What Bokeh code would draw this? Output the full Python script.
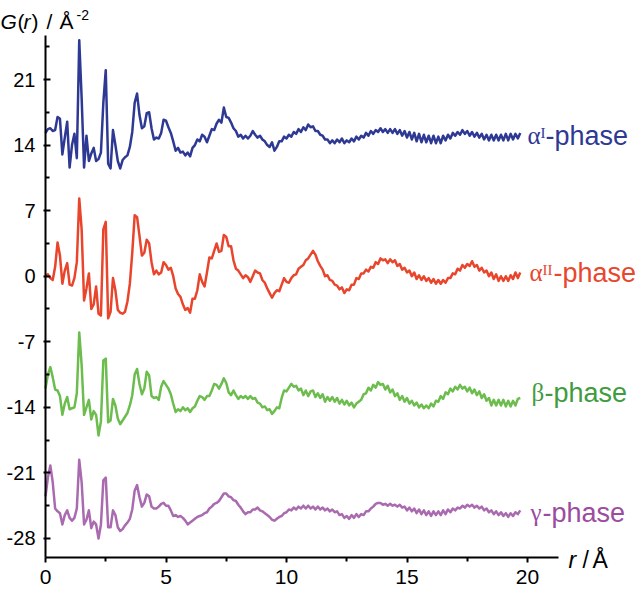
from bokeh.plotting import figure
from bokeh.models import Range1d, FixedTicker, Label, LinearAxis
from bokeh.embed import file_html
from bokeh.resources import INLINE

# r grid (Å), 0.0 .. 19.7 in steps of 0.1
R = [round(0.1 * i, 1) for i in range(198)]

# G(r) values (vertical offsets included)
G_ALPHA_I = [
    15.3, 15.7, 15.8, 15.5, 15.6, 17.0, 16.8, 13.0, 14.8, 16.5,
    11.6, 14.0, 15.2, 12.6, 25.2, 19.0, 11.6, 15.0, 12.3, 13.1,
    13.7, 12.3, 12.5, 13.2, 18.5, 22.0, 12.0, 11.5, 15.6, 14.0,
    12.3, 11.5, 12.4, 12.7, 12.9, 13.8, 15.4, 18.5, 19.5, 17.2,
    15.8, 16.0, 17.4, 17.5, 15.8, 14.6, 14.8, 14.7, 15.3, 16.7,
    16.6, 15.9, 15.3, 14.4, 13.4, 13.7, 13.2, 13.3, 12.9, 13.2,
    12.8, 13.7, 14.0, 14.6, 14.4, 15.1, 14.9, 14.3, 15.0, 15.7,
    15.6, 16.3, 16.7, 16.4, 18.0, 17.0, 16.9, 16.4, 15.8, 15.5,
    14.9, 15.1, 14.7, 15.0, 14.7, 15.0, 15.5, 15.1, 14.8, 15.0,
    14.6, 14.4, 14.0, 13.8, 14.3, 13.4, 13.8, 14.4, 14.4, 14.9,
    14.7, 15.1, 14.9, 15.4, 15.2, 15.7, 15.4, 15.9, 15.6, 16.2,
    15.9, 16.0, 15.5, 15.5, 15.1, 15.0, 14.6, 14.6, 14.2, 14.5,
    14.2, 14.6, 14.3, 14.7, 14.2, 14.5, 14.3, 14.7, 14.4, 14.9,
    14.6, 15.0, 14.8, 15.3, 15.0, 15.5, 15.2, 15.6, 15.4, 15.8,
    15.4, 15.7, 15.3, 15.7, 15.3, 15.7, 15.2, 15.6, 15.0, 15.5,
    14.8, 15.4, 14.6, 15.3, 14.4, 15.2, 14.3, 15.1, 14.3, 15.0,
    14.2, 15.0, 14.2, 14.9, 14.2, 15.0, 14.5, 15.1, 14.7, 15.3,
    15.0, 15.4, 15.1, 15.6, 15.2, 15.5, 15.0, 15.4, 14.9, 15.3,
    14.8, 15.2, 14.6, 15.1, 14.5, 15.1, 14.5, 15.1, 14.5, 15.1,
    14.5, 15.2, 14.5, 15.2, 14.6, 15.2, 14.7, 15.3,
]

G_ALPHA_II = [
    0.0, 0.2, -0.2, -0.4, 1.0, 3.6, 2.2, -0.8, 0.6, 1.4,
    -0.9, -1.0, -0.2, 1.5, 8.3, 5.0, -2.6, -1.3, 0.3, -3.5,
    -3.0, -1.1, -4.0, -4.2, 5.0, 5.8, -4.5, -3.8, -0.2, -1.5,
    -3.6, -3.9, -4.0, -3.8, -2.7, -0.8, 2.5, 6.5, 6.3, 4.3,
    2.2, 2.5, 3.9, 3.5, 1.5, 0.2, 0.6, 0.2, 0.4, 1.5,
    1.2, 0.7, 0.9, 0.0, -1.3, -1.9, -2.2, -3.0, -3.6, -3.4,
    -3.9, -2.4, -2.4, -1.5, 0.2, -0.6, -1.1, 0.4, 2.0, 1.9,
    2.7, 3.5, 2.6, 2.7, 4.4, 4.2, 3.2, 3.2, 1.7, 0.8,
    0.6, 0.2, -0.2, 0.1, -0.1, -0.6, 0.0, 0.6, 0.4, 0.3,
    -0.4, -0.7, -1.3, -1.8, -2.3, -1.8, -1.5, -1.6, -0.9, -0.2,
    -0.6, -0.7, -0.2, 0.1, 0.2, 0.8, 1.0, 1.2, 1.7, 1.9,
    2.3, 2.7, 2.3, 1.6, 1.1, 0.7, 0.0, 0.1, -0.4, -0.5,
    -0.9, -1.0, -1.4, -1.2, -1.8, -1.4, -1.5, -0.9, -0.9, -0.2,
    -0.3, 0.3, 0.3, 0.7, 0.5, 1.0, 0.9, 1.5, 1.3, 1.9,
    1.7, 1.8, 1.4, 1.8, 1.5, 1.7, 1.1, 1.3, 0.7, 0.9,
    0.4, 0.6, 0.0, 0.4, -0.3, 0.1, -0.4, 0.0, -0.5, -0.2,
    -0.7, -0.3, -0.8, -0.4, -0.8, -0.4, -0.7, -0.2, -0.2, 0.3,
    0.2, 0.8, 0.6, 1.2, 0.9, 1.3, 1.1, 1.6, 1.0, 1.2,
    0.6, 0.9, 0.4, 0.6, 0.0, 0.4, -0.3, 0.2, -0.5, 0.0,
    -0.5, 0.0, -0.5, 0.1, -0.3, 0.4, -0.2, 0.4,
]

G_BETA = [
    -12.0, -10.5, -9.7, -10.8, -12.1, -12.2, -12.8, -14.8, -13.6, -12.9,
    -14.2, -14.1, -14.0, -12.5, -6.0, -9.5, -14.8, -14.0, -13.2, -15.3,
    -14.4, -14.8, -17.0, -15.5, -9.0, -8.8, -15.6, -15.4, -13.1, -13.8,
    -15.2, -15.8, -15.4, -15.0, -14.6, -13.8, -12.7, -10.5, -9.9, -11.5,
    -12.6, -12.0, -10.2, -10.6, -12.8, -13.0, -12.9, -13.2, -11.8, -11.2,
    -11.6, -12.0, -12.6, -13.6, -14.5, -14.2, -14.4, -14.0, -14.3, -14.1,
    -14.5, -14.1, -13.9, -13.3, -12.8, -12.9, -13.2, -12.8, -12.8, -12.2,
    -11.5, -11.6, -12.0, -11.5, -10.9, -11.4, -12.4, -12.7, -12.2, -12.7,
    -13.1, -12.8, -13.0, -12.8, -13.1, -12.8, -13.1, -13.0, -13.5, -13.6,
    -14.0, -13.9, -14.3, -14.2, -14.7, -14.4, -14.0, -14.1, -13.0, -12.2,
    -12.3, -11.9, -11.5, -11.8, -11.7, -12.2, -12.0, -12.7, -12.2, -12.8,
    -12.3, -12.2, -12.9, -12.5, -13.0, -12.6, -13.4, -12.9, -13.3, -12.9,
    -13.4, -13.0, -13.6, -13.2, -13.7, -13.3, -13.8, -13.5, -14.0, -13.6,
    -13.4, -13.2, -12.6, -12.5, -11.9, -12.2, -11.6, -11.9, -11.3, -11.6,
    -11.5, -12.1, -11.7, -12.4, -12.1, -12.8, -12.5, -13.2, -12.8, -13.4,
    -13.0, -13.6, -13.3, -13.8, -13.5, -14.0, -13.7, -14.1, -13.8, -14.1,
    -13.6, -13.9, -13.3, -13.4, -12.8, -13.1, -12.4, -12.6, -12.0, -12.3,
    -11.8, -12.1, -11.6, -12.0, -11.8, -12.3, -11.9, -12.5, -12.1, -12.7,
    -12.3, -13.0, -12.6, -13.3, -13.0, -13.8, -13.2, -13.8, -13.2, -13.8,
    -13.2, -13.9, -13.3, -13.9, -13.3, -13.8, -13.1, -13.0,
]

G_GAMMA = [
    -23.5, -21.5, -20.2, -22.0, -24.8, -25.1, -25.3, -26.5, -25.5, -25.0,
    -25.8, -26.1, -25.8, -24.8, -19.6, -22.0, -26.5, -26.0, -25.0, -26.9,
    -26.2, -26.5, -28.0, -26.5, -21.8, -21.5, -26.8, -26.8, -25.0, -25.5,
    -26.8, -27.2, -27.0, -26.6, -26.3, -25.9, -24.9, -22.9, -22.3, -23.6,
    -24.6, -24.2, -23.3, -23.5, -24.6, -24.8, -24.8, -24.6, -24.3, -24.2,
    -24.5, -24.5, -25.0, -25.6, -25.5, -25.7, -25.6, -25.8, -26.1, -26.5,
    -26.3, -26.1, -25.9, -25.7, -25.6, -25.5, -25.3, -25.2, -24.8, -24.6,
    -24.3, -24.2, -24.0, -23.6, -23.2, -23.2, -23.5, -23.6, -23.9, -24.0,
    -24.4, -24.7, -25.1, -25.4, -25.2, -25.2, -24.9, -24.9, -24.7, -25.0,
    -25.1, -25.3, -25.5, -25.7, -26.0, -26.1, -25.9, -25.7, -25.6, -25.3,
    -25.2, -24.9, -25.0, -24.7, -24.9, -24.6, -24.8, -24.5, -24.8, -24.5,
    -24.8, -24.6, -24.9, -24.6, -24.9, -24.7, -25.0, -24.8, -25.1, -24.9,
    -25.2, -25.1, -25.5, -25.4, -25.8, -25.6, -25.9, -25.5, -25.8, -25.4,
    -25.7, -25.4, -25.5, -25.1, -25.1, -24.8, -24.6, -24.3, -24.2, -24.2,
    -24.4, -24.3, -24.5, -24.3, -24.5, -24.4, -24.6, -24.4, -24.7, -24.6,
    -25.0, -24.7, -25.1, -24.8, -25.3, -24.9, -25.4, -25.0, -25.5, -25.1,
    -25.6, -25.1, -25.5, -25.1, -25.5, -25.0, -25.4, -24.9, -25.2, -24.8,
    -25.0, -24.7, -24.8, -24.5, -24.7, -24.4, -24.6, -24.4, -24.7, -24.5,
    -24.8, -24.6, -25.0, -24.8, -25.2, -25.0, -25.4, -25.1, -25.5, -25.2,
    -25.6, -25.3, -25.7, -25.3, -25.6, -25.2, -25.4, -25.0,
]

PHASE_GREEK = ["α", "α", "β", "γ"]
PHASE_SUP = ["I", "II", "", ""]

X_TICKS = [0, 5, 10, 15, 20]
X_MINOR = [2.5, 7.5, 12.5, 17.5]
Y_TICKS = [-28, -21, -14, -7, 0, 7, 14, 21]
Y_MINOR = [-24.5, -17.5, -10.5, -3.5, 3.5, 10.5, 17.5, 24.5]
Y_TICK_LABELS = ["-28", "-21", "-14", "-7", "0", "7", "14", "21"]

# ---------------- styles / placement ----------------
W, H = 640, 597
# pixel calibration of the frame (frame fills the canvas)
PX_X0, PX_PER_R = 45.0, 24.1        # r = 0 at x = 45 px
PX_Y21, PX_PER_G = 79.0, 9.367      # G = 21 at y = 79 px


def dx(px):
    return (px - PX_X0) / PX_PER_R


def dy(py):
    return 21.0 - (py - PX_Y21) / PX_PER_G


X_AXIS_AT = dy(557)      # where the r axis sits
Y_AXIS_TOP = dy(35)
X_AXIS_END = dx(558)

LINE_COLORS = ["#2E3994", "#E8452C", "#6CBD4E", "#A96AAF"]
TEXT_COLORS = ["#2E3994", "#E8472E", "#3F9C3F", "#9C4C9F"]
# (greek x px, baseline y px, sup x px, "-phase" x px)
LABEL_PX = [(527, 135, 540, 545), (529, 272, 542, 553),
            (531, 392, 0, 544), (530, 512, 0, 542)]

SANS = "Liberation Sans"
SERIF = "Liberation Serif"

p = figure(width=W, height=H,
           x_range=Range1d(dx(0), dx(W)), y_range=Range1d(dy(H), dy(0)),
           output_backend="svg", toolbar_location=None,
           x_axis_location=None, y_axis_location=None,
           min_border=0, min_border_left=0, min_border_right=0,
           min_border_top=0, min_border_bottom=0)
p.outline_line_color = None
p.grid.visible = False

xa = LinearAxis(fixed_location=X_AXIS_AT, bounds=(0, X_AXIS_END),
                ticker=FixedTicker(ticks=X_TICKS, minor_ticks=X_MINOR))
ya = LinearAxis(fixed_location=0, bounds=(X_AXIS_AT, Y_AXIS_TOP),
                ticker=FixedTicker(ticks=Y_TICKS, minor_ticks=Y_MINOR))
ya.major_label_overrides = {t: l for t, l in zip(Y_TICKS, Y_TICK_LABELS)}

for ax in (xa, ya):
    ax.axis_line_width = 2
    ax.axis_line_color = "black"
    ax.major_tick_line_width = 2
    ax.minor_tick_line_width = 2
    ax.major_tick_line_color = "black"
    ax.minor_tick_line_color = "black"
    ax.major_label_text_font = SANS
    ax.major_label_text_color = "black"

xa.major_tick_out = 5
xa.major_tick_in = 0
xa.minor_tick_out = 4
xa.minor_tick_in = 0
xa.major_label_text_font_size = "21px"
xa.major_label_standoff = 7

ya.major_tick_out = 2
ya.major_tick_in = 5
ya.minor_tick_out = 0
ya.minor_tick_in = 4
ya.major_label_text_font_size = "20px"
ya.major_label_standoff = 8

p.add_layout(xa, "below")
p.add_layout(ya, "left")

series = [G_ALPHA_I, G_ALPHA_II, G_BETA, G_GAMMA]
for vals, lc in zip(series, LINE_COLORS):
    p.line(R[:len(vals)], vals, line_color=lc, line_width=2.5, line_join="round")


def piece(px, py, text, size, font=SANS, style="normal", color="black"):
    p.add_layout(Label(x=dx(px), y=dy(py), text=text,
                       text_font=font, text_font_size=size,
                       text_font_style=style, text_color=color,
                       text_baseline="alphabetic", text_align="left"))


for i in range(4):
    gx, by, sx, hx = LABEL_PX[i]
    c = TEXT_COLORS[i]
    piece(gx, by, PHASE_GREEK[i], "25px", font=SERIF, color=c)
    if PHASE_SUP[i]:
        piece(sx, by - 3, PHASE_SUP[i], "15px", font=SERIF, color=c)
    piece(hx, by, "-phase", "27px", color=c)

# y-axis title: G(r) / Å^-2
piece(0, 21, "G", "21px", style="italic")
piece(17, 21, "(", "21px")
piece(23, 21, "r", "21px", style="italic")
piece(31, 21, ")", "21px")
piece(46, 21, "/", "21px")
piece(59, 21, "Å", "21px")
piece(76, 14, "-2", "14px")

# x-axis title: r / Å
piece(568, 559, "r", "23px", style="italic")
piece(582, 559, "/", "23px")
piece(592, 559, "Å", "23px")

open("out.html", "w").write(file_html(p, INLINE))
